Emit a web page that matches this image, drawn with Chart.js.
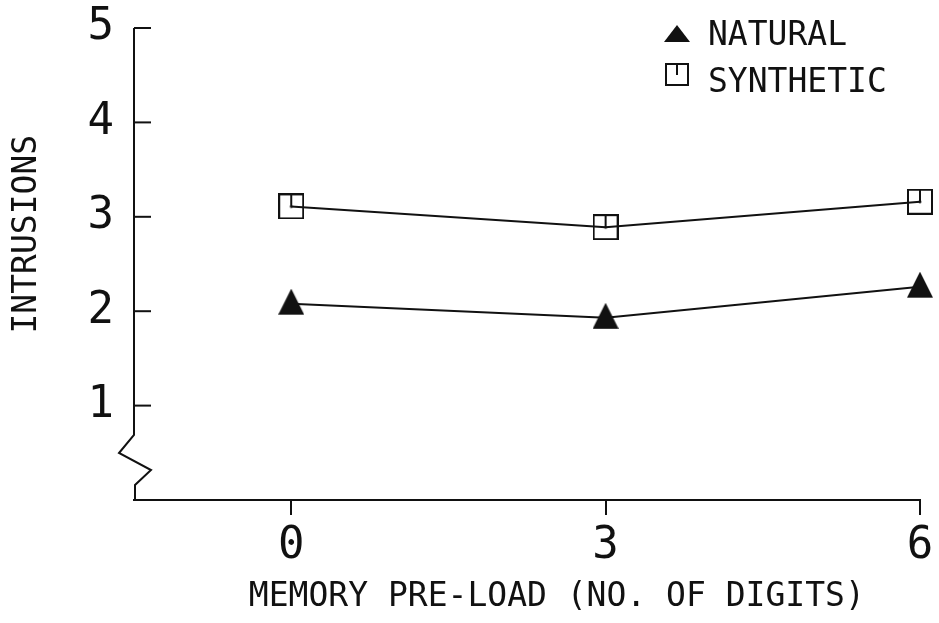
<!DOCTYPE html>
<html><head><meta charset="utf-8">
<script src="https://cdn.jsdelivr.net/npm/chart.js@4.4.1/dist/chart.umd.min.js"></script>
<style>html,body{margin:0;padding:0;background:#fff;}#wrap{width:939px;height:623px;position:relative;}</style>
</head><body><div id="wrap"><canvas id="c"></canvas></div>
<script>
// ---- data ----
const preload = [0, 3, 6];
const natural = [2.08, 1.93, 2.26];
const synthetic = [3.11, 2.89, 3.16];
const xTicks = [0, 3, 6];
const yTicks = [1, 2, 3, 4, 5];
const seriesNames = ['NATURAL', 'SYNTHETIC'];
const xTitle = '   MEMORY PRE-LOAD (NO. OF DIGITS)';
const yTitle = '   INTRUSIONS';

const INK = '#111';
const FONT = '"DejaVu Sans Mono", "Liberation Mono", monospace';

function makeTriangle() {
  const c = document.createElement('canvas'); c.width = 26; c.height = 30;
  const g = c.getContext('2d'); g.fillStyle = INK;
  g.beginPath(); g.moveTo(13, 0); g.lineTo(26, 26); g.lineTo(0, 26); g.closePath(); g.fill();
  return c;
}
function makeSquare() {
  const c = document.createElement('canvas'); c.width = 26; c.height = 26;
  const g = c.getContext('2d'); g.strokeStyle = INK; g.fillStyle = INK; g.lineWidth = 2;
  g.strokeRect(1, 1, 24, 24);
  g.beginPath(); g.moveTo(13, 1); g.lineTo(13, 13); g.stroke();
  g.beginPath(); g.arc(13, 13, 1.5, 0, Math.PI * 2); g.fill();
  return c;
}
const triImg = makeTriangle();
const sqImg = makeSquare();

const decor = {
  id: 'decor',
  afterDraw(chart) {
    const ctx = chart.ctx; const y = chart.scales.y;
    const {left, bottom, right} = chart.chartArea;
    ctx.save();
    ctx.strokeStyle = INK; ctx.lineWidth = 2; ctx.lineJoin = 'miter';
    const x0 = left;
    ctx.beginPath();
    ctx.moveTo(x0, y.getPixelForValue(y.max));
    ctx.lineTo(x0, bottom - 65);
    ctx.lineTo(x0 - 15, bottom - 47);
    ctx.lineTo(x0 + 17, bottom - 30);
    ctx.lineTo(x0 + 1, bottom - 15);
    ctx.lineTo(x0 + 1, bottom);
    ctx.stroke();
    y.ticks.forEach(t => {
      if (t.value <= 0) return;
      const py = y.getPixelForValue(t.value);
      ctx.beginPath(); ctx.moveTo(x0, py); ctx.lineTo(x0 + 17, py); ctx.stroke();
    });
    // legend
    const ds = chart.data.datasets;
    const lx = right - 212;
    ctx.font = '33px ' + FONT; ctx.fillStyle = INK; ctx.textAlign = 'left'; ctx.textBaseline = 'alphabetic';
    ctx.fillText(ds[0].label, lx, 45);
    ctx.fillText(ds[1].label, lx, 92);
    const cx = lx - 31;
    ctx.beginPath(); ctx.moveTo(cx, 25); ctx.lineTo(cx + 13, 42); ctx.lineTo(cx - 13, 42); ctx.closePath(); ctx.fill();
    ctx.strokeRect(cx - 11, 64, 22, 21);
    ctx.beginPath(); ctx.moveTo(cx, 64); ctx.lineTo(cx, 75); ctx.stroke();
    ctx.restore();
  }
};

new Chart(document.getElementById('c'), {
  type: 'line',
  data: {
    datasets: [
      { label: seriesNames[0], data: preload.map((x, i) => ({x, y: natural[i]})),
        borderColor: INK, borderWidth: 2, pointStyle: triImg, pointRadius: 13, tension: 0, clip: false },
      { label: seriesNames[1], data: preload.map((x, i) => ({x, y: synthetic[i]})),
        borderColor: INK, borderWidth: 2, pointStyle: sqImg, pointRadius: 13, tension: 0, clip: false }
    ]
  },
  options: {
    responsive: true, maintainAspectRatio: false, animation: false,
    layout: { padding: { top: 28, right: 19, left: 0, bottom: 0 } },
    plugins: { legend: { display: false }, tooltip: { enabled: false } },
    scales: {
      x: {
        type: 'linear', min: -1.5, max: 6,
        afterBuildTicks: s => { s.ticks = xTicks.map(v => ({value: v})); },
        afterFit: s => { s.height = 123; s.paddingLeft = 0; s.paddingRight = 0; },
        grid: { display: true, drawOnChartArea: false, drawTicks: true, tickLength: 15, lineWidth: 2, color: INK },
        border: { display: true, color: INK, width: 2 },
        ticks: { color: INK, font: { family: FONT, size: 44 }, padding: 5, maxRotation: 0, callback: v => String(v) },
        title: { display: true, text: xTitle, color: INK, font: { family: FONT, size: 33 }, padding: { top: 0, bottom: 6 } }
      },
      y: {
        type: 'linear', min: 0, max: 5,
        afterBuildTicks: s => { s.ticks = [0].concat(yTicks).map(v => ({value: v})); },
        afterFit: s => { s.width = 134; s.paddingTop = 0; s.paddingBottom = 0; },
        grid: { display: false },
        border: { display: false },
        ticks: { color: INK, font: { family: FONT, size: 44 }, padding: 12, callback: v => (v === 0 ? '' : String(v)) },
        title: { display: true, text: yTitle, color: INK, font: { family: FONT, size: 33 }, padding: { top: 8, bottom: 0 } }
      }
    }
  },
  plugins: [decor]
});
</script></body></html>
